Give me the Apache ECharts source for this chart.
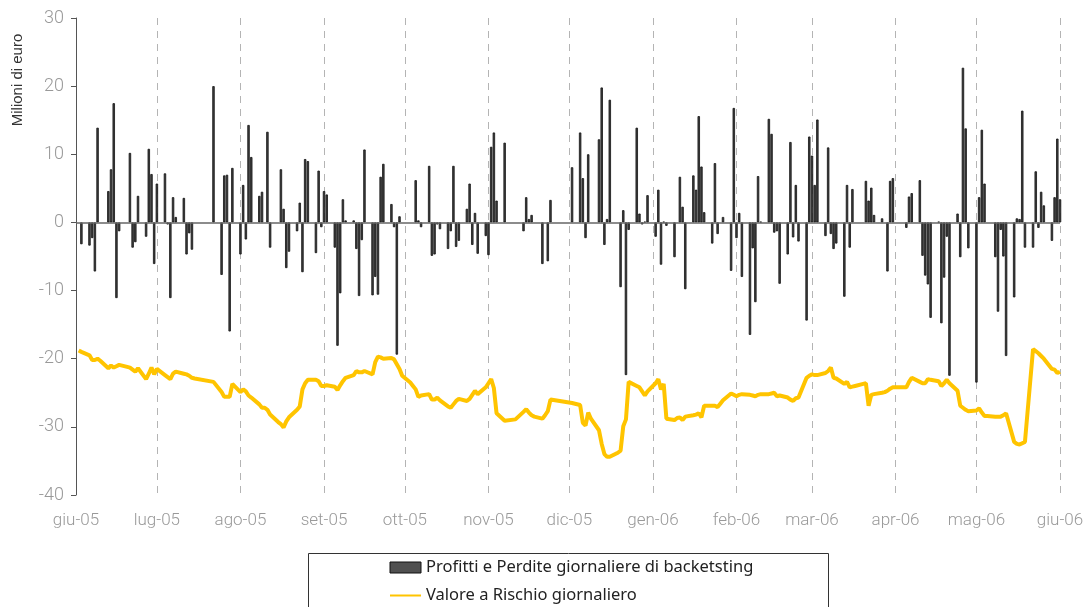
<!DOCTYPE html>
<html>
<head>
<meta charset="utf-8">
<title>Backtesting VaR</title>
<script src="https://cdn.jsdelivr.net/npm/echarts@6/dist/echarts.min.js"></script>
<style>
    html, body { margin: 0; padding: 0; background: #fff; }
    #chart { width: 1092px; height: 607px; }
</style>
</head>
<body>
<div id="chart"></div>
<script>
// asse dei tempi: giorni lavorativi dal 1 giugno 2005 al 1 giugno 2006
const firstDay = '2005-06-01';
const lastDay = '2006-06-01';

// etichette dei mesi e relative date
const tickDates = ['2005-06-01', '2005-07-01', '2005-08-01', '2005-09-01', '2005-10-01', '2005-11-01', '2005-12-01',
    '2006-01-01', '2006-02-01', '2006-03-01', '2006-04-01', '2006-05-01', '2006-06-01'];
const tickLabels = ['giu-05', 'lug-05', 'ago-05', 'set-05', 'ott-05', 'nov-05', 'dic-05',
    'gen-06', 'feb-06', 'mar-06', 'apr-06', 'mag-06', 'giu-06'];

// Profitti e Perdite giornaliere (milioni di euro), una riga per settimana lun-ven
const pnl = [
    null, null, -3.2,
    -3.4, -2.3, -7.2, 13.9, null,
    4.6, 7.8, 17.5, -11.1, -1.3,
    null, 10.2, -3.7, -2.9, 3.9,
    -2.1, 10.8, 7.1, -6.1, 5.7,
    7.2, -0.3, -11.1, 3.7, 0.8,
    3.6, -4.7, -1.6, -4.0, null,
    null, null, null, null, 20.0,
    -7.7, 6.9, 7.0, -16.0, 8.0,
    -4.7, 5.5, -2.5, 14.3, 9.6,
    3.9, 4.5, null, 13.3, -3.7,
    null, 7.8, 2.0, -6.7, -4.3,
    -1.3, 2.9, -7.3, 9.3, 9.0,
    -4.5, 7.6, -0.7, 4.6, 4.1,
    -3.7, -18.1, -10.4, 3.4, 0.3,
    0.3, -3.9, -10.8, -2.6, 10.7,
    -10.7, -8.0, -10.6, 6.7, 8.6,
    2.7, -0.7, -19.4, 0.9, null,
    null, null, 6.2, 0.3, -0.7,
    8.3, -4.9, -4.7, -0.3, -1.0,
    -3.9, -1.3, 8.3, -3.6, -2.7,
    2.0, 5.7, -3.3, 1.4, -4.6,
    -2.0, -4.8, 11.1, 13.2, 3.2,
    11.7, null, null, null, null,
    -1.3, 3.7, 0.5, 1.1, null,
    -6.1, null, -5.7, 3.3, null,
    null, null, null, null, 8.1,
    13.2, 6.5, -2.3, 10.0, null,
    12.2, 19.8, -3.3, 0.5, 18.0,
    null, -9.5, 1.8, -22.4, -1.1,
    13.9, 1.3, -0.3, 0.1, 4.0,
    -2.1, 4.8, -6.2, 0.1, -0.5,
    -5.1, null, 6.7, 2.3, -9.8,
    6.9, 4.8, 15.6, 8.2, 1.5,
    -3.1, 8.7, -1.7, null, 0.8,
    -7.1, 16.8, -2.3, 1.4, -8.0,
    -16.5, -3.8, -11.7, 6.8, 0.1,
    15.2, 13.0, -1.5, -1.3, -9.0,
    -4.7, 11.8, -2.2, 5.5, -2.8,
    -14.4, 12.6, 9.8, 5.5, 15.1,
    -2.0, 11.0, -1.7, -3.9, -3.1,
    -10.9, 5.5, -3.7, 4.9, null,
    null, 6.1, 3.2, 5.1, 1.1,
    0.6, null, -7.2, 6.1, 6.5,
    null, null, -0.8, 3.8, 4.3,
    6.2, -4.9, -7.8, -9.1, -14.0,
    0.1, -14.8, -8.1, -2.1, -22.5,
    1.3, -5.1, 22.7, 13.8, -3.8,
    -23.5, 3.7, 13.6, 5.7, null,
    -5.1, -13.1, -1.1, -5.0, -19.6,
    -11.0, 0.6, 0.5, 16.4, -3.7,
    -3.7, 7.5, -0.8, 4.5, 2.5,
    -2.7, 3.7, 12.3, 3.4
];

// Valore a Rischio giornaliero (milioni di euro)
const valueAtRisk = [
    null, -18.8, -19.0,
    -19.5, -20.2, -20.2, -20.0, -20.3,
    -21.4, -21.0, -21.3, -21.1, -20.9,
    -21.2, -21.3, -21.6, -21.9, -21.4,
    -23.0, -22.2, -21.3, -22.3, -21.5,
    -22.4, -22.7, -23.0, -22.2, -21.9,
    -22.2, -22.3, -22.5, -22.8, -22.9,
    null, null, null, null, -23.4,
    -24.9, -25.6, -25.6, -25.6, -23.7,
    -24.9, -24.5, -24.8, -25.4, -25.7,
    -26.7, -27.2, -27.2, -27.5, -28.2,
    -29.3, -29.6, -30.1, -29.2, -28.6,
    -27.5, -27.0, -24.5, -23.6, -23.1,
    -23.1, -23.3, -24.0, -24.0, -23.9,
    -24.1, -24.6, -23.9, -23.3, -22.8,
    -22.4, -21.8, -22.0, -22.0, -21.8,
    -22.3, -20.5, -19.7, -19.8, -20.0,
    -19.9, -20.1, -20.8, -21.5, -22.5,
    -23.5, -24.0, -24.5, -25.6, -25.4,
    -25.2, -26.0, -26.0, -25.7, -26.1,
    -27.0, -27.2, -26.7, -26.2, -25.9,
    -26.2, -25.9, -25.3, -24.7, -25.2,
    -24.2, -23.6, -23.0, -24.3, -28.0,
    -29.1, null, null, null, -28.9,
    -27.8, -27.4, -27.9, -28.3, -28.5,
    -28.8, -28.3, -27.7, -26.0, null,
    null, null, null, null, -26.5,
    -26.8, -29.4, -29.8, -27.9, -28.8,
    -30.5, -32.5, -34.0, -34.4, -34.4,
    -33.8, -33.5, -29.9, -28.9, -23.4,
    -24.0, -24.2, -24.8, -25.4, -24.8,
    -23.6, -23.0, -24.5, -23.7, -28.8,
    -29.0, -28.7, -28.6, -29.0, -28.5,
    -28.3, -28.2, -28.0, -28.6, -26.9,
    -26.9, -26.9, -27.1, -26.6, -26.1,
    -25.1, -25.3, -25.5, -25.3, -25.2,
    -25.3, -25.4, -25.5, -25.3, -25.2,
    -25.2, -25.1, -25.0, -25.5, -25.4,
    -25.7, -26.0, -26.2, -25.8, -25.7,
    -22.8, -22.5, -22.3, -22.4, -22.4,
    -22.1, -21.8, -21.3, -22.8, -22.9,
    -23.7, -23.4, -24.2, -24.1, -24.0,
    -23.7, -23.6, -26.9, -25.3, -25.2,
    -25.0, -24.9, -24.7, -24.4, -24.2,
    -24.2, -24.2, -24.2, -23.4, -22.8,
    -23.4, -23.6, -23.6, -23.0, -23.1,
    -23.3, -24.0, -23.6, -23.1, -23.6,
    -24.7, -26.9, -27.2, -27.5, -27.7,
    -27.6, -27.3, -27.9, -28.4, -28.4,
    -28.5, -28.5, -28.5, -28.3, -28.0,
    -32.2, -32.5, -32.6, -32.4, -32.2,
    -18.6, -18.9, -19.2, -19.6, -20.0,
    -21.5, -21.6, -22.1, -21.9
];

function toTime(s) {
    const p = s.split('-');
    return Date.UTC(+p[0], +p[1] - 1, +p[2]);
}

// giorni lavorativi
let days = [];
for (let t = toTime(firstDay); t <= toTime(lastDay); t += 86400000) {
    let wd = new Date(t).getUTCDay();
    if (wd !== 0 && wd !== 6) days.push(t);
}
const tickTimes = tickDates.map(toTime);

let barData = days.map((t, i) => [t, pnl[i]]);
let lineData = days.map((t, i) => [t, valueAtRisk[i]]);

let mychart = echarts.init(document.getElementById('chart'));
let option = {
    backgroundColor: '#fff',
    animation: false,
    grid: {
        left: 76,
        right: 32,
        top: 18,
        bottom: 112
    },
    legend: {
        orient: 'vertical',
        left: 389,
        top: 559,
        padding: 0,
        itemWidth: 31,
        itemHeight: 11,
        itemGap: 11,
        textStyle: {
            fontFamily: 'Noto Sans',
            fontSize: 16.5,
            color: '#222'
        },
        data: [
            { name: 'Profitti e Perdite giornaliere di backetsting', icon: 'rect',
              itemStyle: { color: '#505050', borderColor: '#111', borderWidth: 1 } },
            { name: 'Valore a Rischio giornaliero', itemStyle: { opacity: 0 } }
        ]
    },
    graphic: [
        {
            // cornice della legenda
            type: 'rect',
            shape: { x: 308.5, y: 553.5, width: 520, height: 80 },
            style: { fill: 'none', stroke: '#333', lineWidth: 1 }
        },
        {
            type: 'text',
            x: 18,
            y: 80,
            rotation: Math.PI / 2,
            style: {
                text: 'Milioni di euro',
                x: 0,
                y: 0,
                align: 'center',
                verticalAlign: 'middle',
                fontFamily: 'Liberation Sans',
                fontSize: 15,
                fill: '#333'
            }
        }
    ],
    xAxis: {
        type: 'value',
        min: toTime(firstDay),
        max: toTime(lastDay),
        axisLine: { show: false, onZero: false },
        axisTick: { show: false, customValues: tickTimes },
        axisLabel: {
            customValues: tickTimes,
            showMinLabel: true,
            showMaxLabel: true,
            margin: 17,
            fontFamily: 'Roboto',
            fontWeight: 300,
            fontSize: 17,
            color: '#999',
            formatter: function (value) {
                let i = tickTimes.indexOf(value);
                return i >= 0 ? tickLabels[i] : '';
            }
        },
        splitLine: {
            show: true,
            lineStyle: {
                color: '#b4b4b4',
                width: 1,
                type: [7, 6]
            }
        }
    },
    yAxis: {
        type: 'value',
        min: -40,
        max: 30,
        interval: 10,
        axisLine: { show: true, lineStyle: { color: '#555', width: 1 } },
        axisTick: { show: true, length: 5, lineStyle: { color: '#555' } },
        axisLabel: {
            margin: 12,
            fontFamily: 'Roboto',
            fontWeight: 300,
            fontSize: 18,
            color: '#999'
        },
        splitLine: { show: false }
    },
    series: [
        {
            name: 'Profitti e Perdite giornaliere di backetsting',
            type: 'bar',
            barWidth: 2.4,
            itemStyle: {
                color: '#404040',
                borderColor: '#111',
                borderWidth: 0.8
            },
            markLine: {
                silent: true,
                symbol: ['none', 'none'],
                label: { show: false },
                lineStyle: { color: '#666', width: 1.5, type: 'solid' },
                data: [{ yAxis: 0 }]
            },
            data: barData
        },
        {
            name: 'Valore a Rischio giornaliero',
            type: 'line',
            symbol: 'none',
            connectNulls: true,
            z: 3,
            lineStyle: { color: '#ffc400', width: 4 },
            itemStyle: { color: '#ffc400' },
            data: lineData
        }
    ]
};
mychart.setOption(option);
</script>
</body>
</html>
